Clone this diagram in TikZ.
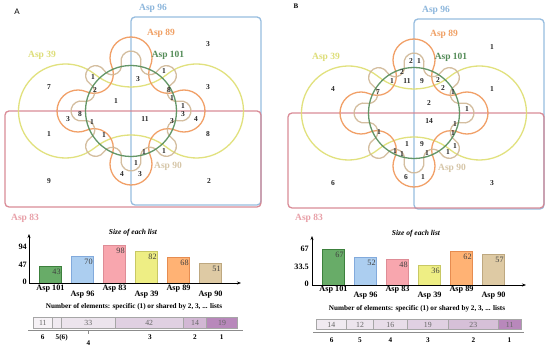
\documentclass[tikz,border=0pt]{standalone}
\usepackage{fontspec}
\setmainfont{Liberation Serif}
\newfontfamily\lsans{Liberation Sans}
\usetikzlibrary{arrows.meta}
\definecolor{cBlue}{RGB}{140,182,220}
\definecolor{cRed}{RGB}{214,128,140}
\definecolor{cGreen}{RGB}{84,140,88}
\definecolor{cYellow}{RGB}{222,222,112}
\definecolor{cOrange}{RGB}{240,150,88}
\definecolor{cTan}{RGB}{208,184,150}
\definecolor{lRed}{RGB}{232,160,168}
\definecolor{lOrange}{RGB}{240,160,100}
\definecolor{lYellow}{RGB}{222,222,120}
\definecolor{lTan}{RGB}{214,198,168}
\definecolor{fGreen}{RGB}{104,172,104}\definecolor{dGreen}{RGB}{60,128,60}
\definecolor{fBlue}{RGB}{172,206,240}\definecolor{dBlue}{RGB}{130,170,220}
\definecolor{fPink}{RGB}{248,166,174}\definecolor{dPink}{RGB}{222,140,150}
\definecolor{fYel}{RGB}{238,238,132}\definecolor{dYel}{RGB}{200,200,100}
\definecolor{fOra}{RGB}{255,178,116}\definecolor{dOra}{RGB}{230,140,80}
\definecolor{fTan}{RGB}{222,202,164}\definecolor{dTan}{RGB}{190,168,128}
\definecolor{sA}{RGB}{246,242,246}
\definecolor{sB}{RGB}{240,234,241}
\definecolor{sC}{RGB}{236,228,237}
\definecolor{sD}{RGB}{232,221,233}
\definecolor{sE}{RGB}{224,208,226}
\definecolor{sF}{RGB}{214,192,216}
\definecolor{sG}{RGB}{184,136,187}
\definecolor{sH}{RGB}{210,183,212}
\tikzset{
  venn/.style={line width=1.3pt, opacity=0.9},
  num/.style={font=\bfseries\fontsize{7.5}{8}\selectfont, text=black!85, inner sep=0pt},
  setlbl/.style={font=\bfseries\fontsize{9.5}{10}\selectfont, inner sep=0pt},
  val/.style={font=\fontsize{8.2}{9}\selectfont, text=black!75, inner sep=0pt},
  xlbl/.style={font=\bfseries\fontsize{8.2}{9}\selectfont, inner sep=0pt},
  ttl/.style={font=\bfseries\itshape\fontsize{7.5}{8}\selectfont, inner sep=0pt},
  ttl2/.style={font=\bfseries\fontsize{7.2}{8}\selectfont, inner sep=0pt},
  seg/.style={draw=black!35, line width=0.5pt},
  segtxt/.style={font=\fontsize{7.8}{8}\selectfont, text=black!60, inner sep=0pt},
  axis/.style={line width=0.6pt, -{Stealth[length=4pt,width=3pt]}},
}
\newcommand\vennShapes{%
  \draw[venn,cYellow] (36.12,-36.68)
    arc[start angle=-128.69, end angle=128.69, radius=47]
    arc[start angle=-51.31, end angle=-128.69, radius=57.8]
    arc[start angle=51.31, end angle=308.69, radius=47]
    arc[start angle=128.69, end angle=51.31, radius=57.8] -- cycle;
  \draw[venn,cOrange] (44.65,-19.27)
    arc[start angle=-113.42, end angle=113.42, radius=21]
    arc[start angle=-66.58, end angle=-203.42, radius=19.3]
    arc[start angle=-23.42, end angle=203.42, radius=21]
    arc[start angle=23.42, end angle=-113.42, radius=19.3]
    arc[start angle=66.58, end angle=293.42, radius=21]
    arc[start angle=113.42, end angle=-23.42, radius=19.3]
    arc[start angle=156.58, end angle=383.42, radius=21]
    arc[start angle=203.42, end angle=66.58, radius=19.3] -- cycle;
  \draw[venn,cTan] (47.75,-9.744)
    arc[start angle=-102.99, end angle=102.99, radius=10]
    arc[start angle=-77.01, end angle=-237.99, radius=9.4]
    arc[start angle=-57.99, end angle=147.99, radius=10]
    arc[start angle=-32.01, end angle=-192.99, radius=9.4]
    arc[start angle=-12.99, end angle=192.99, radius=10]
    arc[start angle=12.99, end angle=-147.99, radius=9.4]
    arc[start angle=32.01, end angle=237.99, radius=10]
    arc[start angle=57.99, end angle=-102.99, radius=9.4]
    arc[start angle=77.01, end angle=282.99, radius=10]
    arc[start angle=102.99, end angle=-57.99, radius=9.4]
    arc[start angle=122.01, end angle=327.99, radius=10]
    arc[start angle=147.99, end angle=-12.99, radius=9.4]
    arc[start angle=167.01, end angle=372.99, radius=10]
    arc[start angle=192.99, end angle=32.01, radius=9.4]
    arc[start angle=212.01, end angle=417.99, radius=10]
    arc[start angle=237.99, end angle=77.01, radius=9.4] -- cycle;
  \draw[venn,cGreen] (0,0) circle[radius=45.5];
}
\begin{document}
\begin{tikzpicture}[x=1pt,y=1pt]
\useasboundingbox (0,0) rectangle (550,348);
\fill[white] (0,0) rectangle (550,348);
% rectangles (pixel coordinates, y down)
\begin{scope}[yshift=348pt,yscale=-1]
  \draw[venn,cBlue,rounded corners=4pt] (131,17) rectangle (261,205);
  \draw[venn,cRed,rounded corners=4pt] (5,111) rectangle (261,207);
  \draw[venn,cBlue,rounded corners=4pt] (414,19) rectangle (544,209);
  \draw[venn,cRed,rounded corners=4pt] (288,113) rectangle (544,208);
\end{scope}
% curved sets
\begin{scope}[shift={(131,237)}] \vennShapes \end{scope}
\begin{scope}[shift={(414,235)}] \vennShapes \end{scope}
% texts and charts (pixel coordinates, y down)
\begin{scope}[yshift=348pt,yscale=-1]
  \node[font=\lsans\fontsize{8}{9}\selectfont, inner sep=0pt] (pA) at (17,12) {A};
  \node[font=\bfseries\fontsize{7}{8}\selectfont, inner sep=0pt] (pB) at (296,6) {B};
  % set labels
  \node[setlbl, text=cBlue] (a96) at (153,8) {Asp 96};
  \node[setlbl, text=lOrange] (a89) at (161,33) {Asp 89};
  \node[setlbl, text=cGreen] (a101) at (168,55) {Asp 101};
  \node[setlbl, text=lYellow] (a39) at (42,55) {Asp 39};
  \node[setlbl, text=lTan] (a90) at (168,166) {Asp 90};
  \node[setlbl, text=lRed] (a83) at (25,218) {Asp 83};
  \node[setlbl, text=cBlue] (b96) at (436,10) {Asp 96};
  \node[setlbl, text=lOrange] (b89) at (444,34) {Asp 89};
  \node[setlbl, text=cGreen] (b101) at (451,57) {Asp 101};
  \node[setlbl, text=lYellow] (b39) at (326,57) {Asp 39};
  \node[setlbl, text=lTan] (b90) at (452,168) {Asp 90};
  \node[setlbl, text=lRed] (b83) at (309,218) {Asp 83};
  % region counts A
  \foreach [count=\i] \x/\y/\t in {208/44/3, 49/87/7, 208/87/3, 93/77/1, 95/90/2, 138/79/3, 164/71/1,
      169/90/8, 172/98/1, 116/101/1, 183/106/1, 183/114/3, 80/114/8, 68/119/3, 196/119/4, 145/119/11,
      92/122/1, 172/121/3, 49/134/1, 208/134/8, 104/135/1, 144/152/1, 164/151/1, 136/163/1, 122/174/4,
      140/174/3, 49/181/9, 209/181/2}
    \node[num] (nA\i) at (\x,\y) {\t};
  % region counts B
  \foreach [count=\i] \x/\y/\t in {492/47/1, 411/61/2, 419/61/1, 402/72/2, 392/81/1, 407/81/11, 422/81/9,
      438/80/2, 333/89/4, 492/89/1, 378/92/7, 443/88/2, 453/92/1, 429/103/2, 467/109/1, 429/121/14,
      455/124/1, 453/133/1, 379/132/1, 407/144/1, 422/144/9, 455/146/1, 395/151/1, 402/154/1, 427/153/1,
      448/152/1, 406/177/6, 423/177/1, 333/183/6, 492/183/3}
    \node[num] (nB\i) at (\x,\y) {\t};
  % ---------- bar chart A
  \node[ttl] (tA) at (133,233) {Size of each list};
  \foreach [count=\k] \i/\v/\c in {0/43/Green, 1/70/Blue, 2/98/Pink, 3/82/Yel, 4/68/Ora, 5/51/Tan} {
    \pgfmathsetmacro\xs{39.5+32*\i}
    \pgfmathsetmacro\yt{283-\v*36/94}
    \draw[draw=d\c, fill=f\c, line width=0.5pt] (\xs,283) rectangle (\xs+22,\yt);
    \node[val] (vA\k) at (\xs+17,\yt+5.5) {\v};
  }
  \coordinate (oA) at (29,283);
  \coordinate (yA) at (29,234);
  \coordinate (xA) at (241,283);
  \draw[axis] (oA) -- (yA);
  \draw[axis] (oA) -- (xA);
  \node[xlbl, anchor=east] (kA1) at (27,247) {94};
  \node[xlbl, anchor=east] (kA2) at (27,265) {47};
  \node[xlbl, anchor=east] (kA3) at (27,282) {0};
  \foreach [count=\k] \i/\t/\yy in {0/Asp 101/289, 1/Asp 96/295, 2/Asp 83/289, 3/Asp 39/295, 4/Asp 89/289, 5/Asp 90/295}
    \node[xlbl] (lA\k) at (50.5+32*\i,\yy) {\t};
  \node[ttl2] (mA) at (134,307) {Number of elements: specific (1) or shared by 2, 3, ... lists};
  \foreach [count=\k] \a/\b/\c/\t in {33.3/52.3/sA/11, 52.3/61.7/sB/{}, 61.7/115/sC/33, 115/183.3/sE/42, 183.3/206.7/sH/14, 206.7/237.3/sG/19} {
    \draw[seg, fill=\c] (\a,317.3) rectangle (\b,328);
    \node[segtxt] (sA\k) at ({(\a+\b)/2},322.6) {\t};
  }
  \coordinate (uA1) at (28,330.5);
  \coordinate (uA2) at (243,330.5);
  \draw[black!45, line width=0.8pt] (uA1) -- (uA2);
  \coordinate (tkA1) at (88.3,331);
  \coordinate (tkA2) at (88.3,334.5);
  \draw[black!45, line width=0.4pt] (tkA1) -- (tkA2);
  \foreach [count=\k] \x/\y/\t in {42.7/337.3/6, 61.7/337.3/5(6), 88.3/343/4, 150/337.3/3, 195/337.3/2, 221.7/337.3/1}
    \node[ttl2] (gA\k) at (\x,\y) {\t};
  % ---------- bar chart B
  \node[ttl] (tB) at (416,234) {Size of each list};
  \foreach [count=\k] \i/\v/\c in {0/67/Green, 1/52/Blue, 2/48/Pink, 3/36/Yel, 4/62/Ora, 5/57/Tan} {
    \pgfmathsetmacro\xs{322.5+32*\i}
    \pgfmathsetmacro\yt{285-\v*36/67}
    \draw[draw=d\c, fill=f\c, line width=0.5pt] (\xs,285) rectangle (\xs+22,\yt);
    \node[val] (vB\k) at (\xs+17,\yt+5.5) {\v};
  }
  \coordinate (oB) at (312,285);
  \coordinate (yB) at (312,236);
  \coordinate (xB) at (526,285);
  \draw[axis] (oB) -- (yB);
  \draw[axis] (oB) -- (xB);
  \node[xlbl, anchor=east] (kB1) at (309,249) {67};
  \node[xlbl, anchor=east] (kB2) at (309,267) {33.5};
  \node[xlbl, anchor=east] (kB3) at (309,284) {0};
  \foreach [count=\k] \i/\t/\yy in {0/Asp 101/290, 1/Asp 96/296, 2/Asp 83/290, 3/Asp 39/296, 4/Asp 89/290, 5/Asp 90/296}
    \node[xlbl] (lB\k) at (333.5+32*\i,\yy) {\t};
  \node[ttl2] (mB) at (417,309) {Number of elements: specific (1) or shared by 2, 3, ... lists};
  \foreach [count=\k] \a/\b/\c/\t in {316/346.7/sB/14, 346.7/373.3/sC/12, 373.3/407.3/sD/16, 407.3/448.3/sE/19, 448.3/498.3/sF/23, 498.3/521/sG/11} {
    \draw[seg, fill=\c] (\a,319.7) rectangle (\b,329.7);
    \node[segtxt] (sB\k) at ({(\a+\b)/2},324.7) {\t};
  }
  \coordinate (uB1) at (313,332.5);
  \coordinate (uB2) at (524,332.5);
  \draw[black!45, line width=0.8pt] (uB1) -- (uB2);
  \foreach [count=\k] \x/\t in {331.7/6, 360/5, 390.3/4, 427.8/3, 473.3/2, 509.5/1}
    \node[ttl2] (gB\k) at (\x,339.7) {\t};
\end{scope}
\end{tikzpicture}
\end{document}
